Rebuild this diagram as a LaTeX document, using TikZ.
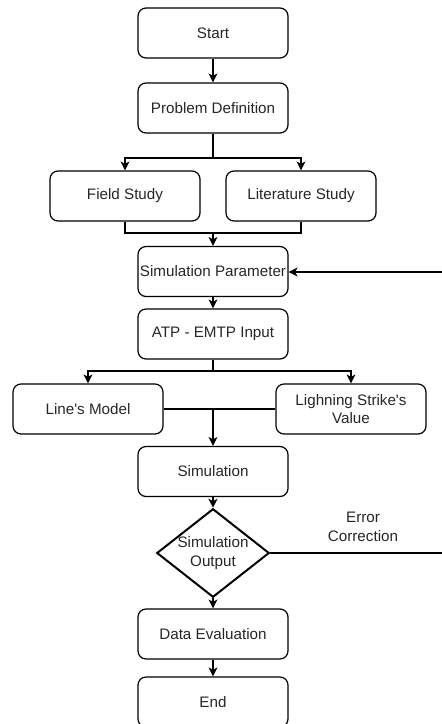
\documentclass[tikz,border=0pt]{standalone}
\usepackage{fontspec}
\setmainfont{Liberation Sans}
\usetikzlibrary{arrows.meta,shapes.geometric}
\begin{document}
\begin{tikzpicture}[x=1pt,y=-1pt,
  box/.style={draw, line width=1.2pt, rounded corners=8pt, minimum width=150pt, minimum height=50pt, inner sep=0pt, align=center, font=\fontsize{15.2}{18.5}\selectfont, text=black!85},
  dec/.style={draw, line width=2pt, diamond, aspect=1.27, minimum width=112pt, minimum height=88pt, inner sep=0pt, align=center, font=\fontsize{15.2}{18.5}\selectfont, text=black!85},
  ln/.style={line width=1.2pt},
  arr/.style={ln, -{Stealth[length=9pt,width=9pt,inset=2.5pt]}},
  lbl/.style={align=center, font=\fontsize{15.2}{18.5}\selectfont, text=black!85}]
\useasboundingbox (0,0) rectangle (442,724);
\clip (0,0) rectangle (442,724);
\node[box] (start) at (213,33) {Start};
\node[box] (prob) at (213,108) {Problem Definition};
\node[box] (field) at (125,196) {Field Study};
\node[box] (lit) at (301,196) {Literature Study};
\node[box] (param) at (213,271.5) {Simulation Parameter};
\node[box] (atp) at (213,334) {ATP - EMTP Input};
\node[box] (model) at (88,409) {Line\textquotesingle s Model};
\node[box] (light) at (351,409) {Lighning Strike\textquotesingle s\\Value};
\node[box] (sim) at (213,471.5) {Simulation};
\node[dec] (out) at (213,553) {Simulation\\Output};
\node[box] (eval) at (213,634) {Data Evaluation};
\node[box] (end) at (213,702) {End};
\node[lbl] (err) at (363,527) {Error\\Correction};
\coordinate (split1) at (213,158);
\coordinate (merge1) at (213,233);
\coordinate (split2) at (213,371);
\coordinate (merge2) at (213,409);
\coordinate (rb) at (444,553);
\coordinate (rt) at (444,272);
\draw[arr] (start) -- (prob);
\draw[ln] (prob.south) -- (split1);
\draw[arr] (split1) -| (field.north);
\draw[arr] (split1) -| (lit.north);
\draw[ln] (field.south) |- (merge1) -| (lit.south);
\draw[arr] (merge1) -- (param.north);
\draw[arr] (param) -- (atp);
\draw[ln] (atp.south) -- (split2);
\draw[arr] (split2) -| (model.north);
\draw[arr] (split2) -| (light.north);
\draw[ln] (model.east) -- (light.west);
\draw[arr] (merge2) -- (sim.north);
\draw[arr] (sim) -- (out.north);
\draw[arr] (out.south) -- (eval.north);
\draw[arr] (eval) -- (end);
\draw[ln] (out.east) -- (rb) -- (rt);
\draw[arr] (rt) -- (param.east |- rt);
\end{tikzpicture}
\end{document}
